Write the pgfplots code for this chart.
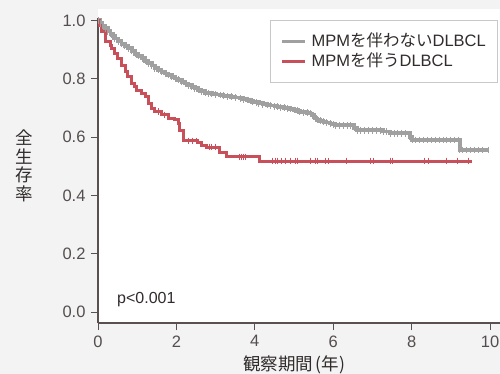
\documentclass[border=0pt]{standalone}
\usepackage{pgfplots}
\pgfplotsset{compat=1.18}
\usepackage{fontspec}
\setmainfont{Liberation Sans}
\newfontfamily\cjk{Noto Sans CJK JP}
\definecolor{bg}{RGB}{243,243,243}
\definecolor{grayc}{RGB}{160,160,160}
\definecolor{redc}{RGB}{200,80,90}
\definecolor{axiscol}{RGB}{90,80,80}
\definecolor{textcol}{RGB}{50,44,44}
\definecolor{tickcol}{RGB}{85,78,78}
\definecolor{legcol}{RGB}{200,200,200}
\begin{document}
\begin{tikzpicture}
\useasboundingbox (0,0) rectangle (500bp,374bp);
\fill[bg] (0,0) rectangle (500bp,374bp);
\fill[white] (98bp,51bp) rectangle (500bp,365bp);
\begin{axis}[
  at={(98bp,51bp)}, anchor=south west, scale only axis,
  width=402bp, height=305bp,
  xmin=0, xmax=10.255, ymin=-0.0366, ymax=1.008,
  axis x line*=bottom, axis y line*=left,
  axis line style={draw=axiscol, line width=1.2bp, -},
  tick style={draw=axiscol, line width=1bp},
  tick align=outside, major tick length=7bp,
  xtick={0,2,4,6,8,10}, ytick={0,0.2,0.4,0.6,0.8,1.0},
  /pgf/number format/assume math mode=true,
  yticklabel style={/pgf/number format/.cd, fixed, fixed zerofill, precision=1, /tikz/.cd, xshift=-2bp},
  xticklabel style={yshift=-2bp},
  tick label style={font=\fontsize{16.5bp}{19bp}\selectfont, text=tickcol},
  xlabel={観察期間\,(年)},
  xlabel style={at={(axis description cs:0.488,-0.137)}, anchor=center, font=\cjk\fontsize{17.5bp}{20bp}\selectfont, text=textcol},
  ylabel={全\\生\\存\\率},
  ylabel style={at={(axis description cs:-0.184,0.515)}, rotate=-90, anchor=center, align=center, font=\cjk\fontsize{17.5bp}{18.5bp}\selectfont, text=textcol},
  legend style={at={(0.428,0.993)}, anchor=north west, draw=legcol, line width=0.8bp, fill=white,
    inner xsep=10bp, inner ysep=11.5bp, row sep=1bp, font=\fontsize{16.5bp}{19bp}\selectfont, text=textcol,
    nodes={inner sep=2bp, text height=12bp, text depth=3bp},
    /tikz/every odd column/.append style={column sep=3bp},
    cells={anchor=west}},
  legend cell align=left,
  legend image code/.code={\draw[#1, mark=none, line width=3.2bp] (0bp,0bp) -- (23bp,0bp);},
]
\addplot[const plot, color=grayc, line width=3.8bp, mark=|, mark size=3.4bp, mark options={line width=0.8bp}] table {
0 1.0
0.05 0.99
0.1 0.982
0.18 0.973
0.25 0.963
0.32 0.953
0.38 0.945
0.43 0.938
0.52 0.928
0.6 0.92
0.68 0.912
0.77 0.904
0.86 0.895
0.95 0.886
1.03 0.878
1.12 0.87
1.2 0.862
1.28 0.853
1.37 0.845
1.45 0.836
1.54 0.830
1.62 0.824
1.71 0.818
1.79 0.813
1.88 0.807
1.97 0.801
2.05 0.796
2.14 0.79
2.22 0.784
2.30 0.778
2.39 0.772
2.47 0.767
2.55 0.762
2.63 0.757
2.73 0.752
2.82 0.750
2.9 0.748
3.0 0.746
3.11 0.744
3.2 0.742
3.3 0.740
3.4 0.738
3.5 0.736
3.62 0.733
3.7 0.730
3.8 0.727
3.88 0.724
3.95 0.721
4.03 0.719
4.1 0.716
4.2 0.713
4.31 0.710
4.4 0.708
4.5 0.706
4.58 0.704
4.65 0.702
4.75 0.701
4.82 0.699
4.9 0.696
5.0 0.693
5.08 0.690
5.15 0.687
5.25 0.685
5.33 0.683
5.41 0.681
5.46 0.676
5.5 0.670
5.55 0.664
5.59 0.659
5.67 0.656
5.75 0.653
5.83 0.650
5.92 0.647
6.0 0.644
6.05 0.641
6.15 0.641
6.25 0.641
6.35 0.641
6.45 0.641
6.53 0.632
6.61 0.624
6.7 0.624
6.8 0.624
6.9 0.624
7.0 0.624
7.1 0.624
7.2 0.624
7.27 0.619
7.36 0.619
7.45 0.613
7.55 0.613
7.65 0.613
7.75 0.613
7.85 0.613
7.95 0.601
8.02 0.590
8.1 0.590
8.2 0.590
8.3 0.590
8.4 0.590
8.5 0.590
8.6 0.590
8.7 0.590
8.8 0.590
8.9 0.590
9.0 0.590
9.1 0.590
9.2 0.590
9.23 0.556
9.3 0.556
9.4 0.556
9.5 0.556
9.6 0.556
9.7 0.556
9.8 0.556
9.95 0.556
};
\addplot[const plot, color=redc, line width=3bp] table {
0 1.0
0.03 0.984
0.09 0.961
0.18 0.927
0.31 0.915
0.35 0.904
0.43 0.887
0.51 0.87
0.6 0.847
0.69 0.824
0.76 0.807
0.86 0.785
0.93 0.773
0.99 0.761
1.11 0.75
1.20 0.738
1.28 0.716
1.36 0.699
1.45 0.687
1.63 0.676
1.79 0.664
1.96 0.659
2.05 0.647
2.09 0.624
2.17 0.587
2.55 0.583
2.64 0.573
2.78 0.566
3.11 0.549
3.29 0.532
4.13 0.518
9.53 0.518
};
\addplot[only marks, mark=|, mark size=3.4bp, color=redc, mark options={line width=0.9bp}, forget plot] table {
1.55 0.687
1.7 0.676
2.3 0.587
2.4 0.587
2.5 0.587
2.85 0.566
2.9 0.566
3.0 0.566
3.6 0.532
3.65 0.532
3.7 0.532
3.75 0.532
4.44 0.518
4.52 0.518
4.59 0.518
4.69 0.518
4.77 0.518
4.90 0.518
5.03 0.518
5.08 0.518
5.41 0.518
5.54 0.518
5.61 0.518
5.79 0.518
5.87 0.518
6.35 0.518
6.94 0.518
7.02 0.518
7.45 0.518
7.52 0.518
8.34 0.518
8.42 0.518
8.88 0.518
9.16 0.518
9.44 0.518
};
\legend{MPM{\cjk を伴わない}DLBCL, MPM{\cjk を伴う}DLBCL}
\node[anchor=west, font=\fontsize{16bp}{18bp}\selectfont, text=textcol, inner sep=0pt] at (axis cs:0.485,0.042) {p<0.001};
\end{axis}
\end{tikzpicture}
\end{document}
